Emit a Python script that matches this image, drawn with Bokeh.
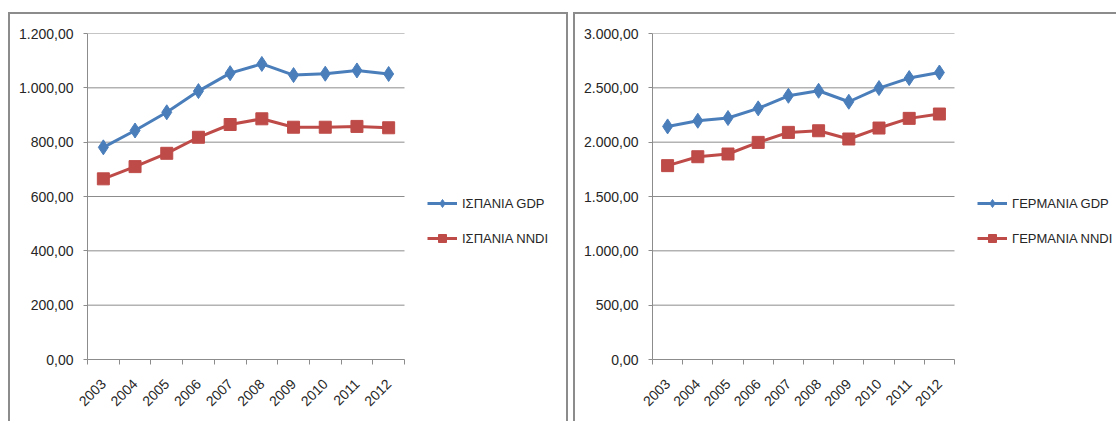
from bokeh.plotting import figure
from bokeh.models import FixedTicker, Legend, LegendItem, Range1d
from bokeh.layouts import row
from bokeh.embed import file_html
from bokeh.resources import INLINE

years = ["2003", "2004", "2005", "2006", "2007", "2008", "2009", "2010", "2011", "2012"]
spain_gdp = [781, 843, 910, 988, 1054, 1088, 1047, 1052, 1064, 1051]
spain_nndi = [665, 710, 759, 818, 865, 886, 855, 855, 858, 853]
germany_gdp = [2145, 2197, 2222, 2311, 2427, 2473, 2372, 2498, 2590, 2641]
germany_nndi = [1784, 1866, 1891, 1998, 2090, 2105, 2029, 2130, 2219, 2259]
spain_yticks = [0, 200, 400, 600, 800, 1000, 1200]
germany_yticks = [0, 500, 1000, 1500, 2000, 2500, 3000]
spain_labels = ["ΙΣΠΑΝΙΑ GDP", "ΙΣΠΑΝΙΑ NNDI"]
germany_labels = ["ΓΕΡΜΑΝΙΑ GDP", "ΓΕΡΜΑΝΙΑ NNDI"]

BLUE = "#4a7ebb"
RED = "#be4b48"
GRID = "#8c8c8c"
TXT = "#262626"
FONT = "Liberation Sans"


def fmt(v):
    s = f"{v:,.2f}"
    return s.replace(",", "X").replace(".", ",").replace("X", ".")


def panel(gdp, nndi, yticks, labels, width, data_px, legend_x, margin, styles):
    n = len(years)
    xs = [i + 0.5 for i in range(n)]
    frame_px = width - 77
    x_end = n * frame_px / data_px  # extra room on the right holds the legend
    p = figure(width=width, height=409, output_backend="svg", toolbar_location=None,
               x_range=Range1d(0, x_end), y_range=Range1d(yticks[0], yticks[-1]),
               min_border_left=77, min_border_right=0, min_border_top=19,
               min_border_bottom=64, margin=margin, styles=styles)
    p.outline_line_color = None
    p.background_fill_color = "white"
    p.border_fill_color = "white"

    p.xaxis.bounds = (0, n)
    p.xaxis.ticker = FixedTicker(ticks=xs, minor_ticks=list(range(n + 1)))
    p.xaxis.major_label_overrides = {x: y for x, y in zip(xs, years)}
    p.xaxis.major_label_orientation = 0.785398
    p.xaxis.major_tick_out = 0
    p.xaxis.major_tick_in = 0
    p.xaxis.minor_tick_out = 5
    p.xaxis.minor_tick_in = 0
    p.xaxis.minor_tick_line_color = GRID
    p.xaxis.axis_line_color = GRID
    p.xaxis.major_label_standoff = 17
    p.xaxis.major_label_text_font = FONT
    p.xaxis.major_label_text_font_size = "14px"
    p.xaxis.major_label_text_color = TXT

    p.yaxis.ticker = FixedTicker(ticks=yticks, minor_ticks=[])
    p.yaxis.major_label_overrides = {t: fmt(t) for t in yticks}
    p.yaxis.major_tick_out = 4
    p.yaxis.major_tick_in = 0
    p.yaxis.major_tick_line_color = GRID
    p.yaxis.axis_line_color = GRID
    p.yaxis.major_label_standoff = 10
    p.yaxis.major_label_text_font = FONT
    p.yaxis.major_label_text_font_size = "14px"
    p.yaxis.major_label_text_color = TXT

    p.xgrid.grid_line_color = None
    p.ygrid.grid_line_color = None
    grid_y = yticks[1:]
    p.segment(x0=[0] * len(grid_y), x1=[n] * len(grid_y), y0=grid_y, y1=grid_y,
              line_color=GRID, line_width=1)

    l1 = p.line(xs, gdp, line_color=BLUE, line_width=3)
    s1 = p.scatter(xs, gdp, marker="diamond", size=15, fill_color=BLUE, line_color=BLUE)
    l2 = p.line(xs, nndi, line_color=RED, line_width=3)
    s2 = p.scatter(xs, nndi, marker="square", size=12, fill_color=RED, line_color=RED)

    leg = Legend(items=[LegendItem(label=labels[0], renderers=[l1, s1]),
                        LegendItem(label=labels[1], renderers=[l2, s2])],
                 location=(legend_x, 111), glyph_width=30, glyph_height=20,
                 label_height=20, label_standoff=5, spacing=15, padding=0, margin=0,
                 border_line_alpha=0, background_fill_alpha=0,
                 label_text_font=FONT, label_text_font_size="13px",
                 label_text_color=TXT)
    p.add_layout(leg)
    return p


border = "2px solid #8c8c8c"
p1 = panel(spain_gdp, spain_nndi, spain_yticks, spain_labels, 560, 317, 340,
           (12, 0, 0, 8), {"border-top": border, "border-left": border, "border-right": border})
p2 = panel(germany_gdp, germany_nndi, germany_yticks, germany_labels, 543, 302, 325,
           (12, 0, 0, 5), {"border-top": border, "border-left": border})

layout = row(p1, p2)
open("out.html", "w").write(file_html(layout, INLINE))
